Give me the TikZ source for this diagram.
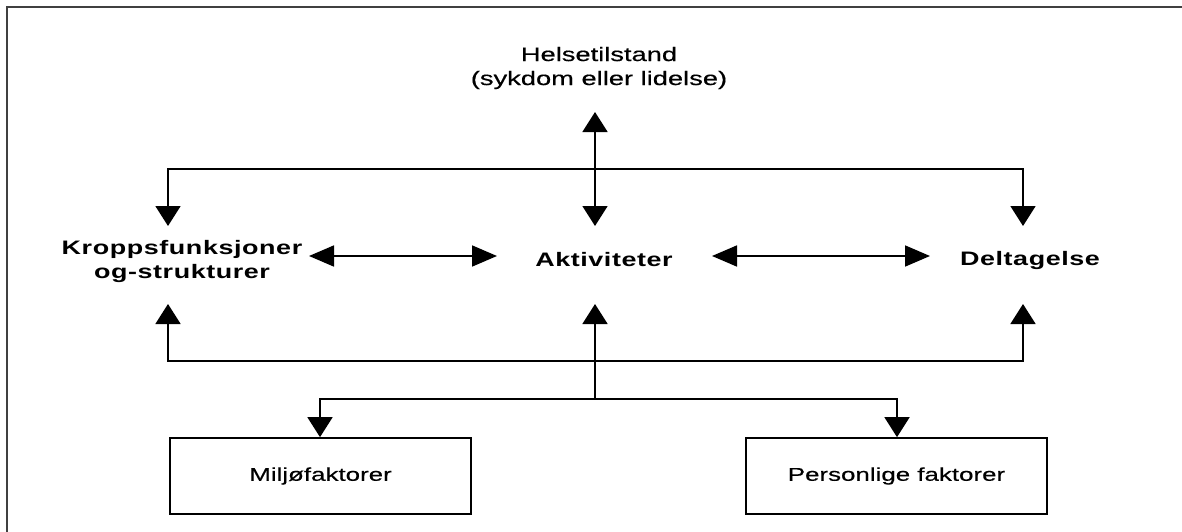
\documentclass[tikz,border=0pt]{standalone}
\usepackage{fontspec}
\setmainfont{Liberation Sans}
\newfontfamily\lblfont[FakeStretch=1.4]{Liberation Sans}
\newfontfamily\topfont[FakeStretch=1.4,FakeBold=0.4]{Liberation Sans}
\newfontfamily\midfont[FakeStretch=1.38,LetterSpace=3]{Liberation Sans}
\usetikzlibrary{arrows.meta}
\tikzset{
  conn/.style={line width=1.7pt, black},
  vtip/.tip={Triangle[length=20pt,width=25pt]},
  htip/.tip={Triangle[length=25pt,width=21pt]},
  toplbl/.style={align=center, inner sep=0pt, font=\topfont\fontsize{19.5}{24}\selectfont},
  midlbl/.style={align=center, inner sep=0pt, font=\midfont\bfseries\fontsize{19.5}{24}\selectfont},
  factbox/.style={draw, line width=1.7pt, minimum width=301pt, minimum height=76pt, inner sep=0pt, font=\topfont\fontsize{18.5}{22}\selectfont},
}
\begin{document}
\begin{tikzpicture}[x=1pt,y=-1pt]
\useasboundingbox (0,0) rectangle (1182,532);
% frame (only top and left visible)
\draw[line width=2.6pt, black!75] (7,532) -- (7,7) -- (1182,7);

% nodes
\node[toplbl] (hels) at (599,68) {Helsetilstand\\(sykdom eller lidelse)};
\node[midlbl] (kropp) at (182,261) {Kroppsfunksjoner\\og-strukturer};
\node[midlbl] (akt) at (604,260) {Aktiviteter};
\node[midlbl] (delt) at (1030,260) {Deltagelse};
\node[factbox] (milj) at (320.5,476) {Miljøfaktorer};
\node[factbox] (pers) at (896.5,476) {Personlige faktorer};

% connector end points
\coordinate (htop) at (595,112);
\coordinate (tjoin) at (595,169);
\coordinate (kin) at (168,226);
\coordinate (ain) at (595,226);
\coordinate (din) at (1023,226);
\coordinate (kout) at (168,304);
\coordinate (aout) at (595,304);
\coordinate (dout) at (1023,304);
\coordinate (bjoin) at (595,361);
\coordinate (split) at (595,399);
\coordinate (ka1) at (309,256);
\coordinate (ka2) at (497,256);
\coordinate (ad1) at (712,256);
\coordinate (ad2) at (930,256);

% connectors
\draw[conn, vtip-vtip] (htop) -- (ain);
\draw[conn, -vtip] (tjoin) -| (kin);
\draw[conn, -vtip] (tjoin) -| (din);
\draw[conn, htip-htip] (ka1) -- (ka2);
\draw[conn, htip-htip] (ad1) -- (ad2);
\draw[conn, -vtip] (bjoin) -| (kout);
\draw[conn, -vtip] (bjoin) -| (dout);
\draw[conn, -vtip] (split) -- (aout);
\draw[conn, -vtip] (split) -| ([xshift=-0.5pt]milj.north);
\draw[conn, -vtip] (split) -| ([xshift=0.5pt]pers.north);
\end{tikzpicture}
\end{document}
